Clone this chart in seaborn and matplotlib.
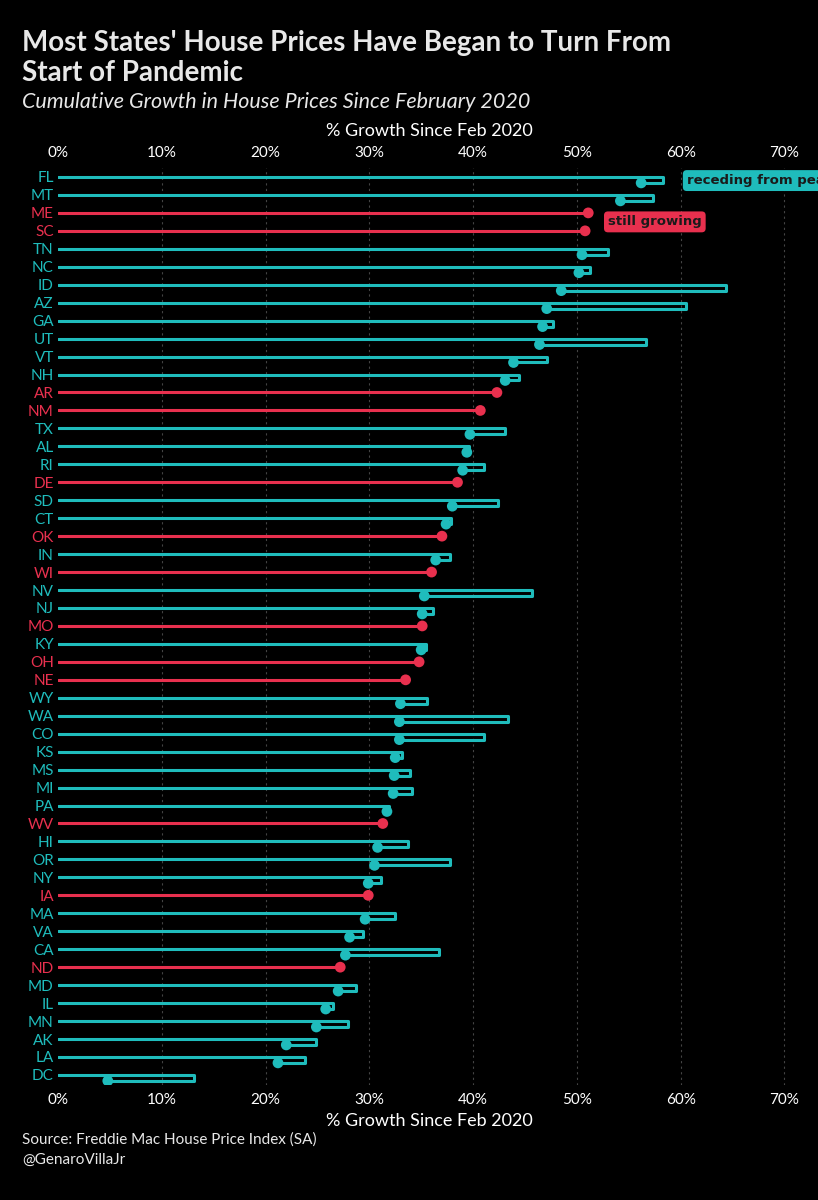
import seaborn as sns
import matplotlib.pyplot as plt
import numpy as np
import pandas as pd

states = ['FL', 'MT', 'ME', 'SC', 'TN', 'NC', 'ID', 'AZ', 'GA', 'UT', 'VT', 'NH', 'AR', 'NM',
          'TX', 'AL', 'RI', 'DE', 'SD', 'CT', 'OK', 'IN', 'WI', 'NV', 'NJ', 'MO', 'KY', 'OH',
          'NE', 'WY', 'WA', 'CO', 'KS', 'MS', 'MI', 'PA', 'WV', 'HI', 'OR', 'NY', 'IA', 'MA',
          'VA', 'CA', 'ND', 'MD', 'IL', 'MN', 'AK', 'LA', 'DC']
current = [56.2, 54.2, 51.1, 50.8, 50.5, 50.2, 48.5, 47.1, 46.7, 46.4, 43.9, 43.1, 42.3, 40.7,
           39.7, 39.4, 39.0, 38.5, 38.0, 37.4, 37.0, 36.4, 36.0, 35.3, 35.1, 35.1, 35.0, 34.8,
           33.5, 33.0, 32.9, 32.9, 32.5, 32.4, 32.3, 31.7, 31.3, 30.8, 30.5, 29.9, 29.9, 29.6,
           28.1, 27.7, 27.2, 27.0, 25.8, 24.9, 22.0, 21.2, 4.8]
peak = [58.3, 57.3, 51.1, 50.8, 53.0, 51.3, 64.4, 60.5, 47.7, 56.7, 47.1, 44.4, 42.3, 40.7,
        43.1, 39.6, 41.1, 38.5, 42.4, 37.9, 37.0, 37.8, 36.0, 45.7, 36.1, 35.1, 35.5, 34.8,
        33.5, 35.6, 43.4, 41.1, 33.2, 33.9, 34.1, 31.9, 31.3, 33.7, 37.8, 31.1, 29.9, 32.5,
        29.4, 36.7, 27.2, 28.7, 26.5, 27.9, 24.9, 23.8, 13.1]
growing = ['ME', 'SC', 'AR', 'NM', 'DE', 'OK', 'WI', 'MO', 'OH', 'NE', 'WV', 'IA', 'ND']

TEAL = '#1fbcbc'
RED = '#e8304e'
FONT = ['Lato', 'DejaVu Sans']

df = pd.DataFrame({'state': states, 'current': current, 'peak': peak})
df['row'] = np.arange(len(df))
df['status'] = np.where(df.state.isin(growing), 'still growing', 'receding from peak')
drop = 0.33
df['y_pt'] = np.where(df.status == 'still growing', df.row, df.row + drop)

sns.set_style('dark')
plt.rcParams['font.family'] = FONT
fig = plt.figure(figsize=(8.18, 12), dpi=100, facecolor='black')
ax = fig.add_axes([0.0709, 0.096, 0.907, 0.764], facecolor='black')

for x in range(10, 80, 10):
    ax.axvline(x, color='#444444', lw=0.8, ls=(0, (2, 3)), zorder=0)

for _, r in df.iterrows():
    if r.status == 'still growing':
        ax.plot([0, r.current], [r.row, r.row], color=RED, lw=2.2, zorder=2)
    else:
        ax.plot([0, r.peak, r.peak, r.current], [r.row, r.row, r.row + drop, r.row + drop],
                color=TEAL, lw=2.2, zorder=2)

sns.scatterplot(data=df, x='current', y='y_pt', hue='status',
                palette={'still growing': RED, 'receding from peak': TEAL},
                s=60, edgecolor='none', legend=False, ax=ax, zorder=3)

ax.set_xlim(0, 71.5)
ax.set_ylim(len(df) - 0.45, -0.5)
ax.set_yticks(df.row)
ax.set_yticklabels(states, fontsize=11)
for lab, st in zip(ax.get_yticklabels(), df.status):
    lab.set_color(RED if st == 'still growing' else TEAL)
ax.set_xticks(range(0, 80, 10))
ax.set_xticklabels([f'{x}%' for x in range(0, 80, 10)], color='white', fontsize=11)
ax.tick_params(axis='x', top=True, labeltop=True, length=0, pad=6)
ax.tick_params(axis='y', length=0, pad=3)
ax.set_xlabel('% Growth Since Feb 2020', color='white', fontsize=13)
ax.set_ylabel('')
ax.grid(False)
for s in ax.spines.values():
    s.set_visible(False)
ax.text(0.5, 1.035, '% Growth Since Feb 2020', transform=ax.transAxes, ha='center',
        color='white', fontsize=13)

ax.text(60.6, 0.2, 'receding from peak', color='#1a1a1a', fontsize=9.5, fontweight='bold',
        family='DejaVu Sans', va='center', clip_on=False,
        bbox=dict(boxstyle='round,pad=0.3', fc=TEAL, ec='none'))
ax.text(53.0, 2.5, 'still growing', color='#1a1a1a', fontsize=9.5, fontweight='bold',
        family='DejaVu Sans', va='center',
        bbox=dict(boxstyle='round,pad=0.3', fc=RED, ec='none'))

fig.text(0.027, 0.975, "Most States' House Prices Have Began to Turn From\nStart of Pandemic",
         color='#e8e8e8', fontsize=20, fontweight='bold', va='top', linespacing=1.2)
fig.text(0.027, 0.907, 'Cumulative Growth in House Prices Since February 2020',
         color='#e8e8e8', fontsize=15.5, style='italic', va='bottom')
fig.text(0.027, 0.028, 'Source: Freddie Mac House Price Index (SA)\n@GenaroVillaJr',
         color='#e8e8e8', fontsize=11, va='bottom', linespacing=1.5)

fig.savefig('out.png', dpi=100, facecolor='black')
